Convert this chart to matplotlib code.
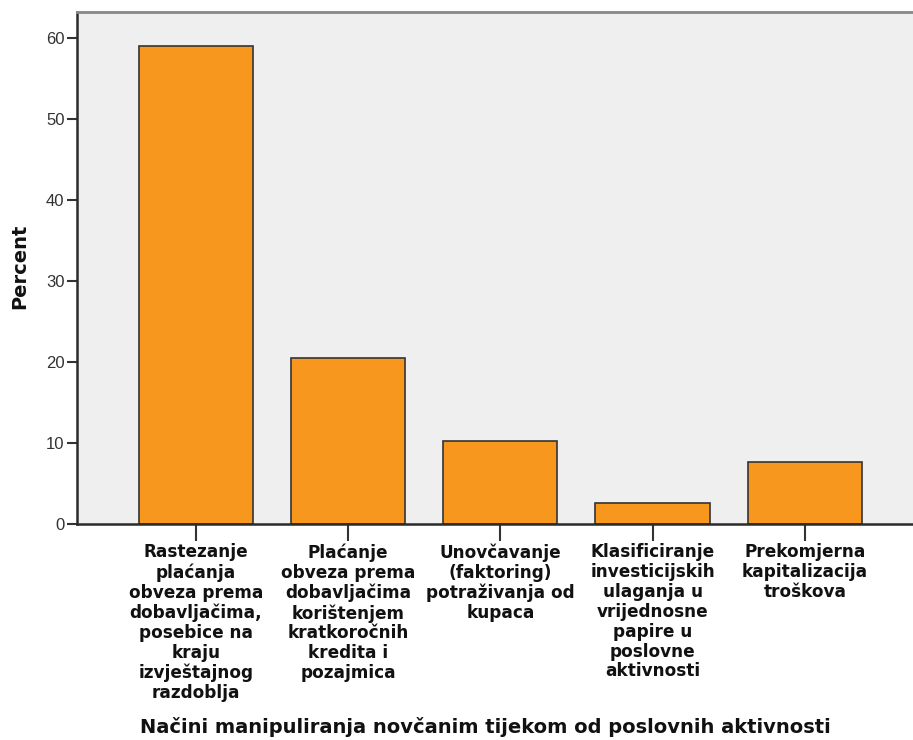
import numpy as np
import matplotlib.pyplot as plt

plt.rcParams['font.family'] = ['Liberation Sans', 'DejaVu Sans']

kategorije = [
    "Rastezanje\nplaćanja\nobveza prema\ndobavljačima,\nposebice na\nkraju\nizvještajnog\nrazdoblja",
    "Plaćanje\nobveza prema\ndobavljačima\nkorištenjem\nkratkoročnih\nkredita i\npozajmica",
    "Unovčavanje\n(faktoring)\npotraživanja od\nkupaca",
    "Klasificiranje\ninvesticijskih\nulaganja u\nvrijednosne\npapire u\nposlovne\naktivnosti",
    "Prekomjerna\nkapitalizacija\ntroškova",
]
postotak = [59.0, 20.5, 10.3, 2.6, 7.7]
y_ticks = [0, 10, 20, 30, 40, 50, 60]

fig = plt.figure(figsize=(9.13, 7.4), dpi=100)
ax = fig.add_axes([0.0843, 0.2919, 0.9157, 0.6919])
ax.set_facecolor('#efefef')

x = np.arange(len(kategorije))
ax.bar(x, postotak, width=0.75, color='#f7971e', edgecolor='#333333', linewidth=1.2, zorder=2)

ax.set_xlim(-0.78, 4.71)
ax.set_ylim(0, 63.2)
ax.set_yticks(y_ticks)
ax.set_xticks(x)
ax.set_xticklabels(kategorije, fontsize=12.2, fontweight='bold', linespacing=1.13,
                   family='DejaVu Sans', color='#111111')
ax.tick_params(axis='y', length=7, width=1.5, labelsize=12, pad=2, color='#333333',
               labelcolor='#333333')
ax.tick_params(axis='x', length=12, width=1.5, pad=2, color='#333333')

for s in ['left', 'bottom']:
    ax.spines[s].set_linewidth(1.8)
    ax.spines[s].set_color('#2b2b2b')
ax.spines['top'].set_color('#888888')
ax.spines['top'].set_linewidth(2)
ax.spines['right'].set_visible(False)

fig.text(20 / 913, 1 - 266 / 740, 'Percent', rotation=90, ha='center', va='center',
         fontsize=14, fontweight='bold', family='DejaVu Sans', color='#111111')
fig.text(485 / 913, 1 - 727 / 740, 'Načini manipuliranja novčanim tijekom od poslovnih aktivnosti',
         ha='center', va='center', fontsize=14.0, fontweight='bold', family='DejaVu Sans',
         color='#111111')

fig.savefig('out.png', dpi=100)
